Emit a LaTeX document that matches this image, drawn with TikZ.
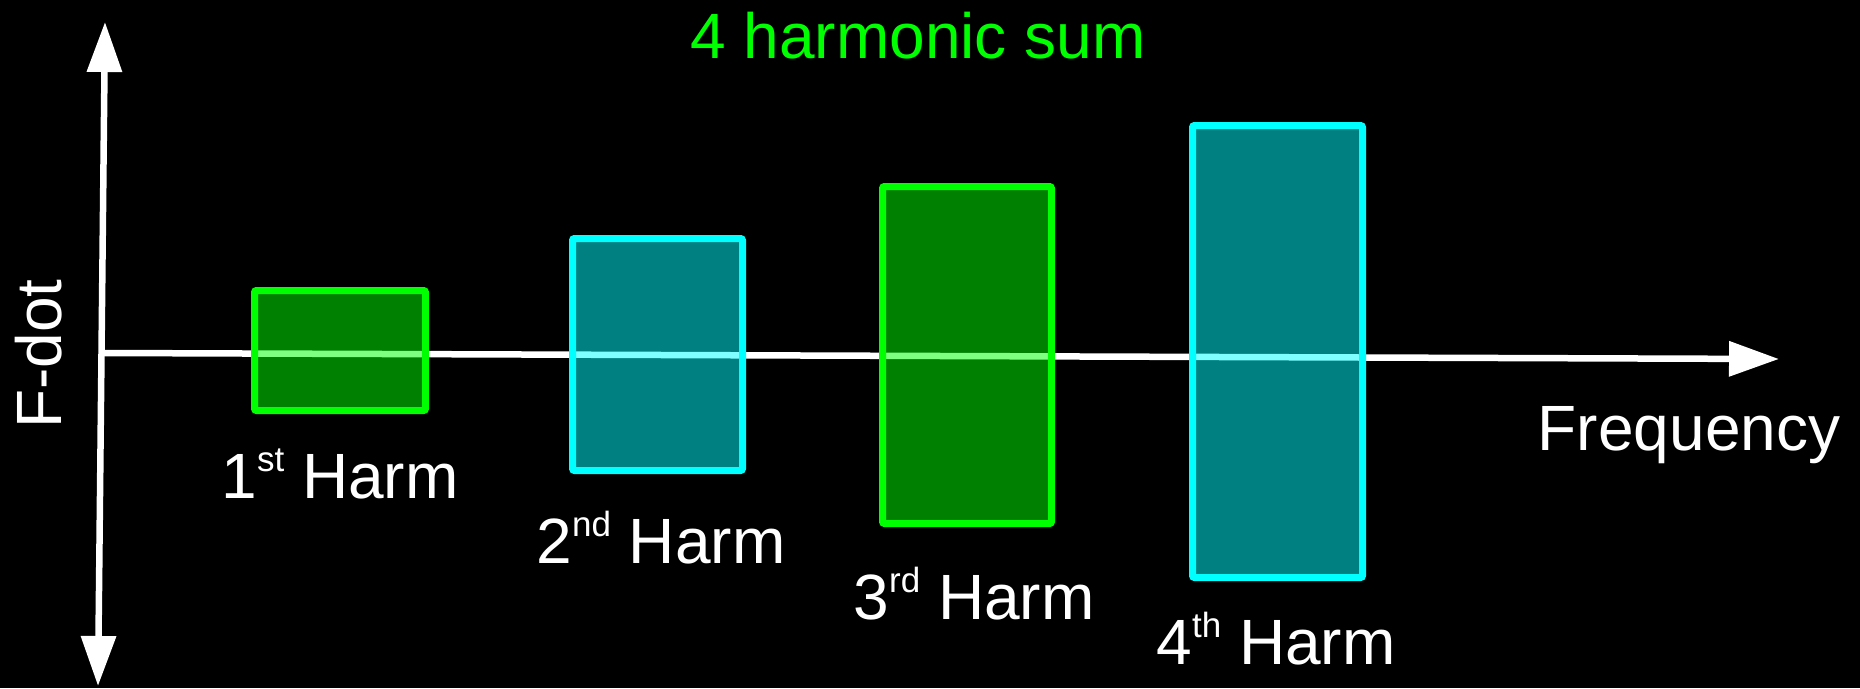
\documentclass[tikz,border=0pt]{standalone}
\usepackage{fontspec}
\setmainfont{Liberation Sans}
\usetikzlibrary{arrows.meta}
\definecolor{hgreen}{RGB}{0,255,0}
\definecolor{hcyan}{RGB}{0,255,255}
\newcommand\supr[1]{\raisebox{27pt}{\fontsize{35}{35}\selectfont #1}}
\begin{document}
\begin{tikzpicture}[x=1pt,y=-1pt,
  axis/.style={white, line width=6.5pt},
  bigtri/.tip={Triangle[length=50pt,width=34pt]},
  harmbox/.style={draw=#1, fill=#1, fill opacity=0.5, draw opacity=1, line width=7pt, rounded corners=2pt, inner sep=0pt},
  lbl/.style={text=white, anchor=base, font=\fontsize{64}{64}\selectfont, inner sep=0pt}]
\fill[black] (0,0) rectangle (1860,688);
\useasboundingbox (0,0) rectangle (1860,688);
% axes
\coordinate (vtop) at (105,22);
\coordinate (vbot) at (98,686);
\coordinate (horig) at (104,353);
\coordinate (hend) at (1779,359);
\draw[axis, bigtri-bigtri] (vtop) -- (vbot);
\draw[axis, -bigtri] (horig) -- (hend);
% boxes
\node[harmbox=hgreen, minimum width=171pt, minimum height=120pt] (b1) at (340,350.5) {};
\node[harmbox=hcyan, minimum width=170pt, minimum height=232pt] (b2) at (657.5,354.5) {};
\node[harmbox=hgreen, minimum width=169pt, minimum height=337pt] (b3) at (967,355) {};
\node[harmbox=hcyan, minimum width=170pt, minimum height=452pt] (b4) at (1277.5,351.5) {};
% labels
\node[lbl] (l1) at (340,498) {1\supr{st} Harm};
\node[lbl] (l2) at (661,563) {2\supr{nd} Harm};
\node[lbl] (l3) at (974,619) {3\supr{rd} Harm};
\node[lbl] (l4) at (1276,664) {4\supr{th} Harm};
\node[lbl] (freq) at (1689,450) {Frequency};
\node[lbl, rotate=90] (fdot) at (61,354) {F-dot};
\node[lbl, text=hgreen] (title) at (918,58) {4 harmonic sum};
\end{tikzpicture}
\end{document}
